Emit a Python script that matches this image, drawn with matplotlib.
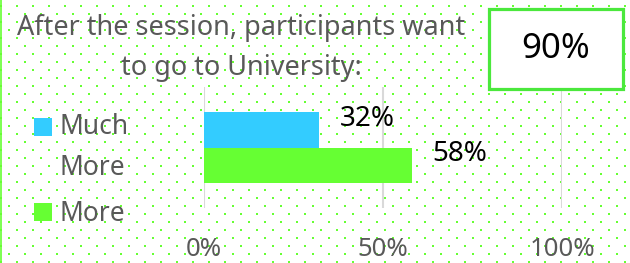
import matplotlib
matplotlib.use("Agg")
import numpy as np
import matplotlib.pyplot as plt
import matplotlib.patches as mpatches
from matplotlib.container import BarContainer
from matplotlib.legend_handler import HandlerPatch, update_from_first_child

# data
series = ["Much\nMore", "More"]
values = [32, 58]
colors = ["#33CCFF", "#66FF33"]
ticks = [0, 50, 100]
title = "After the session, participants want\nto go to University:"
headline = "90%"

plt.rcParams["font.family"] = ["Noto Sans", "DejaVu Sans"]
W, H = 630, 263
fig = plt.figure(figsize=(W / 100, H / 100), dpi=100)

# dotted background
bg = fig.add_axes([0, 0, 1, 1])
bg.set_zorder(-1)
bg.set_xlim(0, W)
bg.set_ylim(H, 0)
bg.axis("off")
xa, ya = np.meshgrid(np.arange(9, W, 16), np.arange(14, H, 16))
xb, yb = np.meshgrid(np.arange(1, W, 16), np.arange(6, H, 16))
bg.scatter(np.r_[xa.ravel(), xb.ravel()], np.r_[ya.ravel(), yb.ravel()],
           marker="s", s=2.1, lw=0, color="#66FF33")
bg.axvline(0.8, color="#66FF33", lw=1.2)

# bars
ax = fig.add_axes([204 / W, 1 - 208 / H, 358 / W, 121 / H])
ax.patch.set_alpha(0)
h = 0.29
ypos = [h / 2, -h / 2]
for name, v, c, y in zip(series, values, colors, ypos):
    ax.barh(y, v, height=h, color=c, label=name)
    ax.annotate(f"{v}%", xy=(v, y), xytext=(15, 8), textcoords="offset points",
                ha="left", va="center", fontsize=20, color="black")
ax.set_xlim(0, 100)
ax.set_ylim(-0.5, 0.5)
ax.set_xticks(ticks)
ax.set_xticklabels([f"{t}%" for t in ticks])
ax.set_yticks([])
ax.tick_params(axis="x", length=0, pad=21, labelsize=18.5, labelcolor="#595959")
ax.grid(axis="x", color="#D9D9D9", lw=1.5)
ax.set_axisbelow(True)
for s in ax.spines.values():
    s.set_visible(False)

LINE = 1.6


def square(legend, orig_handle, xdescent, ydescent, width, height, fontsize):
    side = 13
    lift = 15.8 * orig_handle.get_label().count("\n")
    return mpatches.Rectangle((-xdescent + (width - side) / 2, -ydescent + lift), side, side)


leg = ax.legend(handler_map={BarContainer: HandlerPatch(patch_func=square,
                                                        update_func=update_from_first_child)},
                loc="upper left", bbox_to_anchor=(34 / W, 1 - 113 / H),
                bbox_transform=fig.transFigure, frameon=False, fontsize=19,
                borderpad=0, borderaxespad=0, handlelength=0.68, handleheight=0.7,
                handletextpad=0.3, labelspacing=0.7)
for t in leg.get_texts():
    t.set_color("#595959")
    t.set_linespacing(LINE)

fig.text(241 / W, 1 - 14 / H, title, ha="center", va="top", fontsize=19.5,
         color="#595959", linespacing=1.55)

# headline box
fig.add_artist(mpatches.Rectangle((489 / W, 1 - 89 / H), 134 / W, 80 / H,
                                  transform=fig.transFigure, fc="white",
                                  ec="#4BE83D", lw=2.3))
fig.text(556 / W, 1 - 49 / H, headline, ha="center", va="center",
         fontsize=25, color="black")

fig.savefig("out.png", dpi=100)
